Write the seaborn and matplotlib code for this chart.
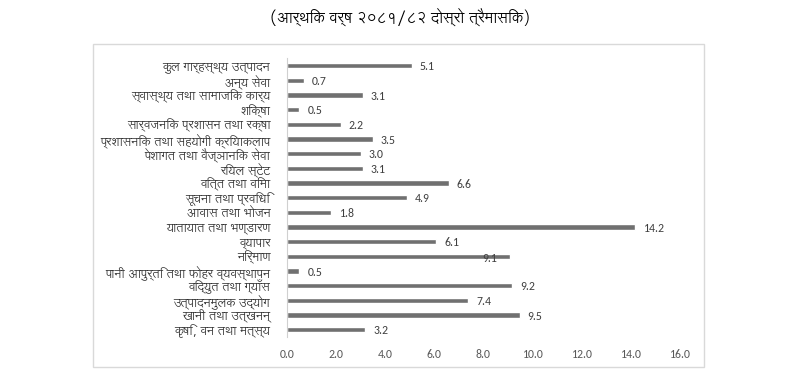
import matplotlib
matplotlib.use("Agg")
import matplotlib.pyplot as plt
from matplotlib.patches import Rectangle
import seaborn as sns
import pandas as pd

title = "(आर्थिक वर्ष २०८१/८२ दोस्रो त्रैमासिक)"
categories = [
    "कुल गार्हस्थ्य उत्पादन",
    "अन्य सेवा",
    "स्वास्थ्य तथा सामाजिक कार्य",
    "शिक्षा",
    "सार्वजनिक प्रशासन तथा रक्षा",
    "प्रशासनिक तथा सहयोगी क्रियाकलाप",
    "पेशागत तथा वैज्ञानिक सेवा",
    "रियल स्टेट",
    "वित्त तथा विमा",
    "सूचना तथा प्रविधि",
    "आवास तथा भोजन",
    "यातायात तथा भण्डारण",
    "व्यापार",
    "निर्माण",
    "पानी आपुर्ति तथा फोहर व्यवस्थापन",
    "विद्युत तथा ग्याँस",
    "उत्पादनमुलक उद्योग",
    "खानी तथा उत्खनन्",
    "कृषि, वन तथा मत्स्य",
]
values = [5.1, 0.7, 3.1, 0.5, 2.2, 3.5, 3.0, 3.1, 6.6, 4.9, 1.8, 14.2, 6.1, 9.1, 0.5, 9.2, 7.4, 9.5, 3.2]
xticks = [0, 2, 4, 6, 8, 10, 12, 14, 16]

sns.set_theme(style="white")
dev_family = ["Lohit Devanagari", "Carlito", "DejaVu Sans"]
num_family = ["Carlito", "DejaVu Sans"]

W, H = 798, 383
fig = plt.figure(figsize=(W / 100, H / 100), dpi=100)
ax = fig.add_axes([287 / W, 1 - 337 / H, (679 - 287) / W, (337 - 58.4) / H])

df = pd.DataFrame({"cat": categories, "val": values})
sns.barplot(data=df, x="val", y="cat", orient="h", color="#707070",
            saturation=1, width=0.36, ax=ax)

ax.set_xlim(0, 16)
ax.set_ylim(len(categories) - 0.5, -0.5)
ax.set_xticks(xticks)
ax.set_xticklabels([f"{t:.1f}" for t in xticks], family=num_family,
                   fontsize=8.5, color="#595959")
ax.set_yticks(range(len(categories)))
ax.set_yticklabels(categories, family=dev_family, fontsize=8.8, color="#303030")
ax.tick_params(axis="x", length=0, pad=9)
ax.tick_params(axis="y", length=0, pad=12)
ax.set_xlabel("")
ax.set_ylabel("")
for s in ["top", "right", "bottom"]:
    ax.spines[s].set_visible(False)
ax.spines["left"].set_color("#d0d0d0")
ax.spines["left"].set_linewidth(0.8)

for i, v in enumerate(values):
    if categories[i] == "निर्माण":
        ax.annotate(f"{v:.1f}", xy=(v, i), xytext=(-20, -2), textcoords="offset pixels",
                    ha="center", va="center", family=num_family, fontsize=8.5, color="#404040")
    else:
        ax.annotate(f"{v:.1f}", xy=(v, i), xytext=(8, -1), textcoords="offset pixels",
                    ha="left", va="center", family=num_family, fontsize=8.5, color="#404040")

fig.text(400 / W, 1 - 17 / H, title, ha="center", va="center",
         family=dev_family, fontsize=11, color="#000000")

fig.patches.append(Rectangle((93 / W, 1 - 366.7 / H), (704 - 93) / W, (366.7 - 43.5) / H,
                             transform=fig.transFigure, fill=False,
                             edgecolor="#d9d9d9", linewidth=1))

fig.savefig("out.png", dpi=100)
